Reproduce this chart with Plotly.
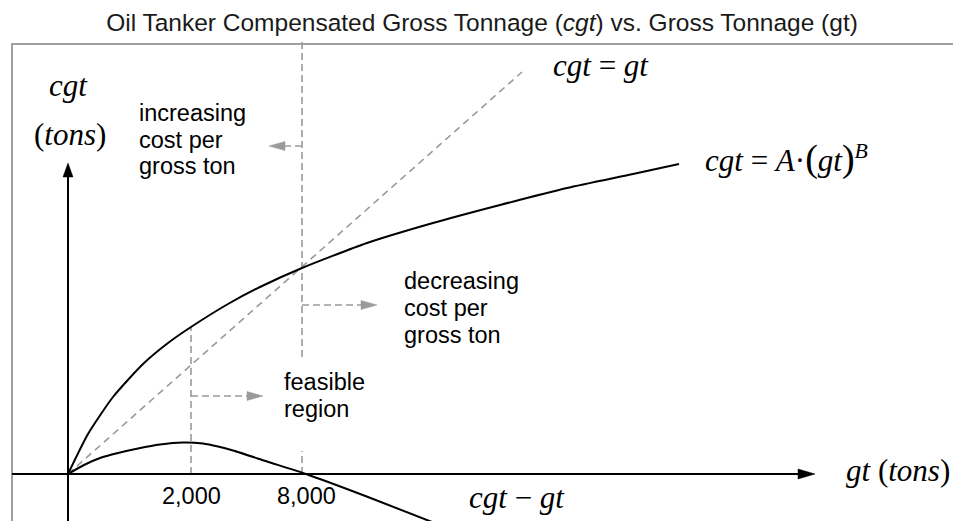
import plotly.graph_objects as go

# ---- data (schematic diagram; x = gt, y = cgt, in drawing units from the origin) ----
cgt_x = [0, 20, 45, 75, 100, 123, 160, 192, 234, 299, 365, 432, 499, 565, 611]
cgt_y = [0, 40, 77, 110, 131, 147, 170, 187, 206, 231, 251, 269, 286, 300, 310]

diff_x = [0, 16, 32, 50, 70, 92, 115, 135, 150, 165, 199, 238, 300, 382]
diff_y = [0, 9, 16, 21, 25.5, 29.5, 31.5, 30.5, 27.5, 23.5, 12.5, 0, -23, -55]

eq_x = [0, 454]
eq_y = [0, 402]

tick_x = [123, 234]
tick_labels = ["2,000", "8,000"]

SANS = "Liberation Sans, Arial, Helvetica, sans-serif"
SERIF = "Liberation Serif, Times New Roman, serif"
GRAY = "#9a9a9a"
DASH = "7px,4px"

# the page body has an 8px margin: figure is 953x513 placed at (8, 8)
W, H = 953, 513
OX, OY = 60, 466  # origin position inside the figure (pixels)

fig = go.Figure()

# cgt = gt dashed diagonal
fig.add_trace(go.Scatter(x=eq_x, y=eq_y, mode="lines",
                         line=dict(color=GRAY, width=1.6, dash="7px,5px"), hoverinfo="skip"))

# dashed guide lines (vertical at the two tick values)
fig.add_trace(go.Scatter(x=[tick_x[0], tick_x[0]], y=[0, cgt_y[cgt_x.index(tick_x[0])]], mode="lines",
                         line=dict(color=GRAY, width=1.6, dash=DASH), hoverinfo="skip"))
fig.add_trace(go.Scatter(x=[tick_x[1], tick_x[1]], y=[117, 436], mode="lines",
                         line=dict(color=GRAY, width=1.6, dash=DASH), hoverinfo="skip"))
fig.add_trace(go.Scatter(x=[tick_x[1], tick_x[1]], y=[0, 23], mode="lines",
                         line=dict(color=GRAY, width=1.6, dash=DASH), hoverinfo="skip"))

# horizontal dashed arrows
arrows = [  # (start x, y, tip x)
    (tick_x[0], 78, 195),
    (tick_x[1], 169, 309),
    (tick_x[1], 328, 201),
]
for x0, yv, x1 in arrows:
    fig.add_trace(go.Scatter(x=[x0, x1 - (8 if x1 > x0 else -8)], y=[yv, yv], mode="lines",
                             line=dict(color=GRAY, width=1.6, dash=DASH), hoverinfo="skip"))

# curves
fig.add_trace(go.Scatter(x=cgt_x, y=cgt_y, mode="lines",
                         line=dict(color="black", width=2, shape="spline", smoothing=0.6),
                         hoverinfo="skip"))
fig.add_trace(go.Scatter(x=diff_x, y=diff_y, mode="lines",
                         line=dict(color="black", width=2, shape="spline", smoothing=0.6),
                         hoverinfo="skip"))

# axes
fig.add_trace(go.Scatter(x=[-56, 740], y=[0, 0], mode="lines", line=dict(color="black", width=2), hoverinfo="skip"))
fig.add_trace(go.Scatter(x=[0, 0], y=[-60, 305], mode="lines", line=dict(color="black", width=2), hoverinfo="skip"))

shapes = []
def head(tx, ty, d, color, length=16, half=5):
    if d == "right":
        p = f"M{tx},{ty} L{tx-length},{ty+half} L{tx-length},{ty-half} Z"
    elif d == "left":
        p = f"M{tx},{ty} L{tx+length},{ty+half} L{tx+length},{ty-half} Z"
    else:  # up
        p = f"M{tx},{ty} L{tx-half},{ty-length} L{tx+half},{ty-length} Z"
    shapes.append(dict(type="path", path=p, fillcolor=color, line=dict(color=color, width=0.5),
                       xref="x", yref="y", layer="above"))

for x0, yv, x1 in arrows:
    head(x1, yv, "right" if x1 > x0 else "left", GRAY, length=16, half=4.5)
head(747, 0, "right", "black", length=17, half=5)
head(0, 311, "up", "black", length=14, half=5)

# frame
shapes.append(dict(type="rect", xref="x", yref="y", x0=-56, y0=430, x1=920, y1=-80,
                   line=dict(color="#a0a0a0", width=2), layer="below"))

ann = []
def txt(x, y, s, font, size, xanchor="left"):
    ann.append(dict(x=x, y=y, xref="x", yref="y", text=s, showarrow=False, xanchor=xanchor, yanchor="middle",
                    font=dict(family=font, size=size, color="black")))

# sans labels (window pixel -> data: x-68, 474-y)
for i, s in enumerate(["increasing", "cost per", "gross ton"]):
    txt(137 - 68, 474 - (113 + 26.5 * i), s, SANS, 23.5)
for i, s in enumerate(["decreasing", "cost per", "gross ton"]):
    txt(402 - 68, 474 - (281 + 27 * i), s, SANS, 23.5)
for i, s in enumerate(["feasible", "region"]):
    txt(282 - 68, 474 - (382 + 26.5 * i), s, SANS, 23.5)
txt(tick_x[0], 474 - 496, tick_labels[0], SANS, 23.5, "center")
txt(tick_x[1] + 4, 474 - 496, tick_labels[1], SANS, 23.5, "center")

# serif math labels
txt(0, 474 - 85, "<i>cgt</i>", SERIF, 31, "center")
txt(2, 474 - 134, "(<i>tons</i>)", SERIF, 31, "center")
txt(551 - 68, 474 - 65, "<i>cgt</i> = <i>gt</i>", SERIF, 31)
txt(703 - 68, 474 - 158,
    "<i>cgt</i> = <i>A</i>·<span style=\"font-size:38px\">(</span><i>gt</i>"
    "<span style=\"font-size:38px\">)</span><sup><i>B</i></sup>", SERIF, 31)
txt(844 - 68, 474 - 470, "<i>gt</i> (<i>tons</i>)", SERIF, 31)
txt(467 - 68, 474 - 497, "<i>cgt</i> \u2212 <i>gt</i>", SERIF, 31)

fig.update_layout(
    width=W, height=H,
    margin=dict(l=0, r=0, t=0, b=0),
    paper_bgcolor="white", plot_bgcolor="white",
    showlegend=False,
    xaxis=dict(range=[-OX, W - OX], visible=False, fixedrange=True),
    yaxis=dict(range=[OY - H, OY], visible=False, fixedrange=True),
    shapes=shapes,
    annotations=ann,
    title=dict(text="Oil Tanker Compensated Gross Tonnage (<i>cgt</i>) vs. Gross Tonnage (gt)",
               x=(482 - 8) / W, xanchor="center", y=1 - 5.5 / H, yanchor="top", yref="container",
               pad=dict(t=0, b=0, l=0, r=0),
               font=dict(family=SANS, size=24.5, color="#1a1a1a")),
)

fig.write_html("out.html")
